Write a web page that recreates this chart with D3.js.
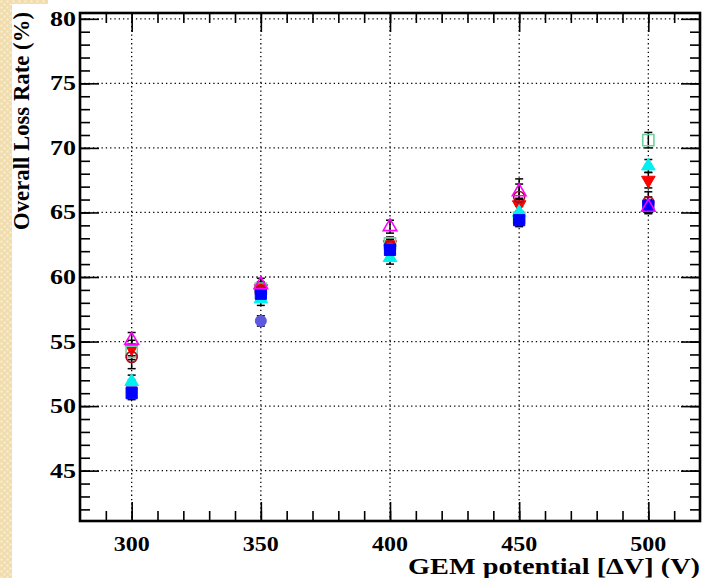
<!DOCTYPE html>
<html>
<head>
<meta charset="utf-8">
<script src="https://cdn.jsdelivr.net/npm/d3@7"></script>
<style>
body { margin: 0; background: #ffffff; }
svg { display: block; }
text { font-family: "Liberation Serif", "Times New Roman", serif; font-weight: bold; fill: #000; }
</style>
</head>
<body>
<div id="chart"></div>
<script>
// GEM voltage scan, loss rate per configuration
var voltages = [300, 350, 400, 450, 500];
var xTicks = [300, 350, 400, 450, 500];
var yTicks = [45, 50, 55, 60, 65, 70, 75, 80];

var blueSquare = [51.0, 58.7, 62.1, 64.4, 65.5];
var blueSquareErr = [0.5, 0.5, 0.5, 0.4, 0.5];
var cyanUp = [51.9, 58.3, 61.5, 65.0, 68.6];
var cyanUpErr = [0.5, 0.5, 0.5, 0.5, 0.5];
var redDown = [54.5, 59.1, 62.5, 65.6, 67.5];
var redDownErr = [0.6, 0.5, 0.5, 0.5, 0.6];
var magentaUp = [55.1, 59.4, 63.9, 66.6, 65.4];
var magentaUpErr = [0.6, 0.5, 0.5, 0.6, 0.5];
var greenSquare = [54.2, 59.1, 62.6, 64.6, 70.6];
var greenSquareErr = [0.6, 0.5, 0.5, 0.5, 0.6];
var darkCircle = [53.8, 58.9, 62.4, 66.2, 65.8];
var darkCircleErr = [0.9, 0.6, 0.5, 1.4, 0.8];
var slateCircle = [51.4, 56.6, 62.2, 64.4, 65.6];
var slateCircleErr = [0.6, 0.4, 0.5, 0.5, 0.6];

var series = [
	{ values: redDown, errors: redDownErr, shape: "down", color: "#ff0000", open: false },
	{ values: greenSquare, errors: greenSquareErr, shape: "square", color: "#72cfa0", open: true },
	{ values: darkCircle, errors: darkCircleErr, shape: "circle", color: "#a01020", open: true },
	{ values: slateCircle, errors: slateCircleErr, shape: "circle", color: "#5c58e0", open: false },
	{ values: cyanUp, errors: cyanUpErr, shape: "up", color: "#00f0f0", open: false },
	{ values: blueSquare, errors: blueSquareErr, shape: "square", color: "#0000ff", open: false },
	{ values: magentaUp, errors: magentaUpErr, shape: "up", color: "#ff00ff", open: true }
];

var width = 706, height = 578;
var frame = { left: 80, right: 700, top: 13, bottom: 521 };

var svg = d3.select("#chart").append("svg")
	.attr("width", width)
	.attr("height", height);

// beige slide border on the left
var defs = svg.append("defs");
var pat = defs.append("pattern")
	.attr("id", "paper")
	.attr("width", 6).attr("height", 6)
	.attr("patternUnits", "userSpaceOnUse");
pat.append("rect").attr("width", 6).attr("height", 6).attr("fill", "#f1dcae");
pat.append("circle").attr("cx", 1.5).attr("cy", 1.5).attr("r", 1.2).attr("fill", "#f8ecd0");
pat.append("circle").attr("cx", 4.5).attr("cy", 4.5).attr("r", 1.2).attr("fill", "#f8ecd0");
svg.append("rect").attr("x", 0).attr("y", 0).attr("width", 12).attr("height", height).attr("fill", "url(#paper)");
svg.append("rect").attr("x", 0).attr("y", 0).attr("width", 48).attr("height", 4).attr("fill", "url(#paper)");

var x = d3.scaleLinear().domain([280, 520]).range([frame.left, frame.right]);
var y = d3.scaleLinear().domain([41.1, 80.45]).range([frame.bottom, frame.top]);

// dotted grid
var grid = svg.append("g").attr("class", "grid");
grid.selectAll("line.gx")
	.data(xTicks)
	.enter().append("line")
	.attr("class", "gx")
	.attr("x1", function(d) { return x(d); })
	.attr("x2", function(d) { return x(d); })
	.attr("y1", frame.top)
	.attr("y2", frame.bottom)
	.attr("stroke", "#000")
	.attr("stroke-width", 1.3)
	.attr("stroke-dasharray", "1.3,3");
grid.selectAll("line.gy")
	.data(yTicks)
	.enter().append("line")
	.attr("class", "gy")
	.attr("x1", frame.left)
	.attr("x2", frame.right)
	.attr("y1", function(d) { return y(d); })
	.attr("y2", function(d) { return y(d); })
	.attr("stroke", "#000")
	.attr("stroke-width", 1.3)
	.attr("stroke-dasharray", "1.3,3");

// axes: ticks inside the frame on all four sides
var xMinor = d3.range(290, 520, 10);
var yMinor = d3.range(42, 81, 1);
var majorLen = 19, minorLen = 10;

function drawAxis(axis, pos, ticks, len) {
	var g = svg.append("g")
		.attr("transform", pos)
		.call(axis.tickValues(ticks).tickSize(-len).tickSizeOuter(0).tickFormat(""));
	g.select(".domain").remove();
	g.selectAll(".tick line").attr("stroke", "#000").attr("stroke-width", 1.6);
	return g;
}

drawAxis(d3.axisBottom(x), "translate(0," + frame.bottom + ")", xMinor, minorLen);
drawAxis(d3.axisBottom(x), "translate(0," + frame.bottom + ")", xTicks, majorLen);
drawAxis(d3.axisTop(x), "translate(0," + frame.top + ")", xMinor, minorLen);
drawAxis(d3.axisTop(x), "translate(0," + frame.top + ")", xTicks, majorLen);
drawAxis(d3.axisLeft(y), "translate(" + frame.left + ",0)", yMinor, minorLen);
drawAxis(d3.axisLeft(y), "translate(" + frame.left + ",0)", yTicks, majorLen);
drawAxis(d3.axisRight(y), "translate(" + frame.right + ",0)", yMinor, minorLen);
drawAxis(d3.axisRight(y), "translate(" + frame.right + ",0)", yTicks, majorLen);

// tick labels, outside the frame
svg.append("g").selectAll("text")
	.data(xTicks)
	.enter().append("text")
	.attr("x", function(d) { return x(d); })
	.attr("y", frame.bottom + 30)
	.attr("text-anchor", "middle")
	.attr("font-size", "21px")
	.attr("textLength", 36)
	.attr("lengthAdjust", "spacingAndGlyphs")
	.text(function(d) { return d; });
svg.append("g").selectAll("text")
	.data(yTicks)
	.enter().append("text")
	.attr("x", frame.left - 4)
	.attr("y", function(d) { return y(d) + 7; })
	.attr("text-anchor", "end")
	.attr("font-size", "21px")
	.attr("textLength", 26)
	.attr("lengthAdjust", "spacingAndGlyphs")
	.text(function(d) { return d; });

svg.append("rect")
	.attr("x", frame.left)
	.attr("y", frame.top)
	.attr("width", frame.right - frame.left)
	.attr("height", frame.bottom - frame.top)
	.attr("fill", "none")
	.attr("stroke", "#000")
	.attr("stroke-width", 2.6);

// axis titles
svg.append("text")
	.attr("x", frame.right)
	.attr("y", 574)
	.attr("text-anchor", "end")
	.attr("font-size", "23px")
	.attr("textLength", 292)
	.attr("lengthAdjust", "spacingAndGlyphs")
	.text("GEM potential [\u0394V] (V)");
svg.append("text")
	.attr("transform", "translate(29,12) rotate(-90)")
	.attr("text-anchor", "end")
	.attr("font-size", "23px")
	.attr("textLength", 218)
	.attr("lengthAdjust", "spacingAndGlyphs")
	.text("Overall Loss Rate (%)");

// error bars then markers
var pts = svg.append("g").attr("class", "points");
var capW = 4;
for(var s = 0; s < series.length; s++) {
	var ser = series[s];
	var eb = pts.append("g");
	for(var i = 0; i < voltages.length; i++) {
		var cx = x(voltages[i]);
		var lo = y(ser.values[i] - ser.errors[i]);
		var hi = y(ser.values[i] + ser.errors[i]);
		eb.append("line").attr("x1", cx).attr("x2", cx).attr("y1", lo).attr("y2", hi)
			.attr("stroke", "#000").attr("stroke-width", 1.5);
		eb.append("line").attr("x1", cx - capW).attr("x2", cx + capW).attr("y1", lo).attr("y2", lo)
			.attr("stroke", "#000").attr("stroke-width", 1.5);
		eb.append("line").attr("x1", cx - capW).attr("x2", cx + capW).attr("y1", hi).attr("y2", hi)
			.attr("stroke", "#000").attr("stroke-width", 1.5);
	}
}
for(var s = 0; s < series.length; s++) {
	var ser = series[s];
	var symType = d3.symbolSquare, rot = 0, area = 125;
	if(ser.shape == "up") { symType = d3.symbolTriangle; area = 80; }
	if(ser.shape == "down") { symType = d3.symbolTriangle; rot = 180; area = 80; }
	if(ser.shape == "circle") { symType = d3.symbolCircle; area = 95; }
	var sym = d3.symbol().type(symType).size(area);
	pts.append("g").selectAll("path")
		.data(ser.values)
		.enter().append("path")
		.attr("d", sym)
		.attr("transform", function(d, i) {
			return "translate(" + x(voltages[i]) + "," + y(d) + ") rotate(" + rot + ")";
		})
		.attr("fill", ser.open ? "none" : ser.color)
		.attr("stroke", ser.color)
		.attr("stroke-width", ser.open ? 1.6 : 1);
}
</script>
</body>
</html>
